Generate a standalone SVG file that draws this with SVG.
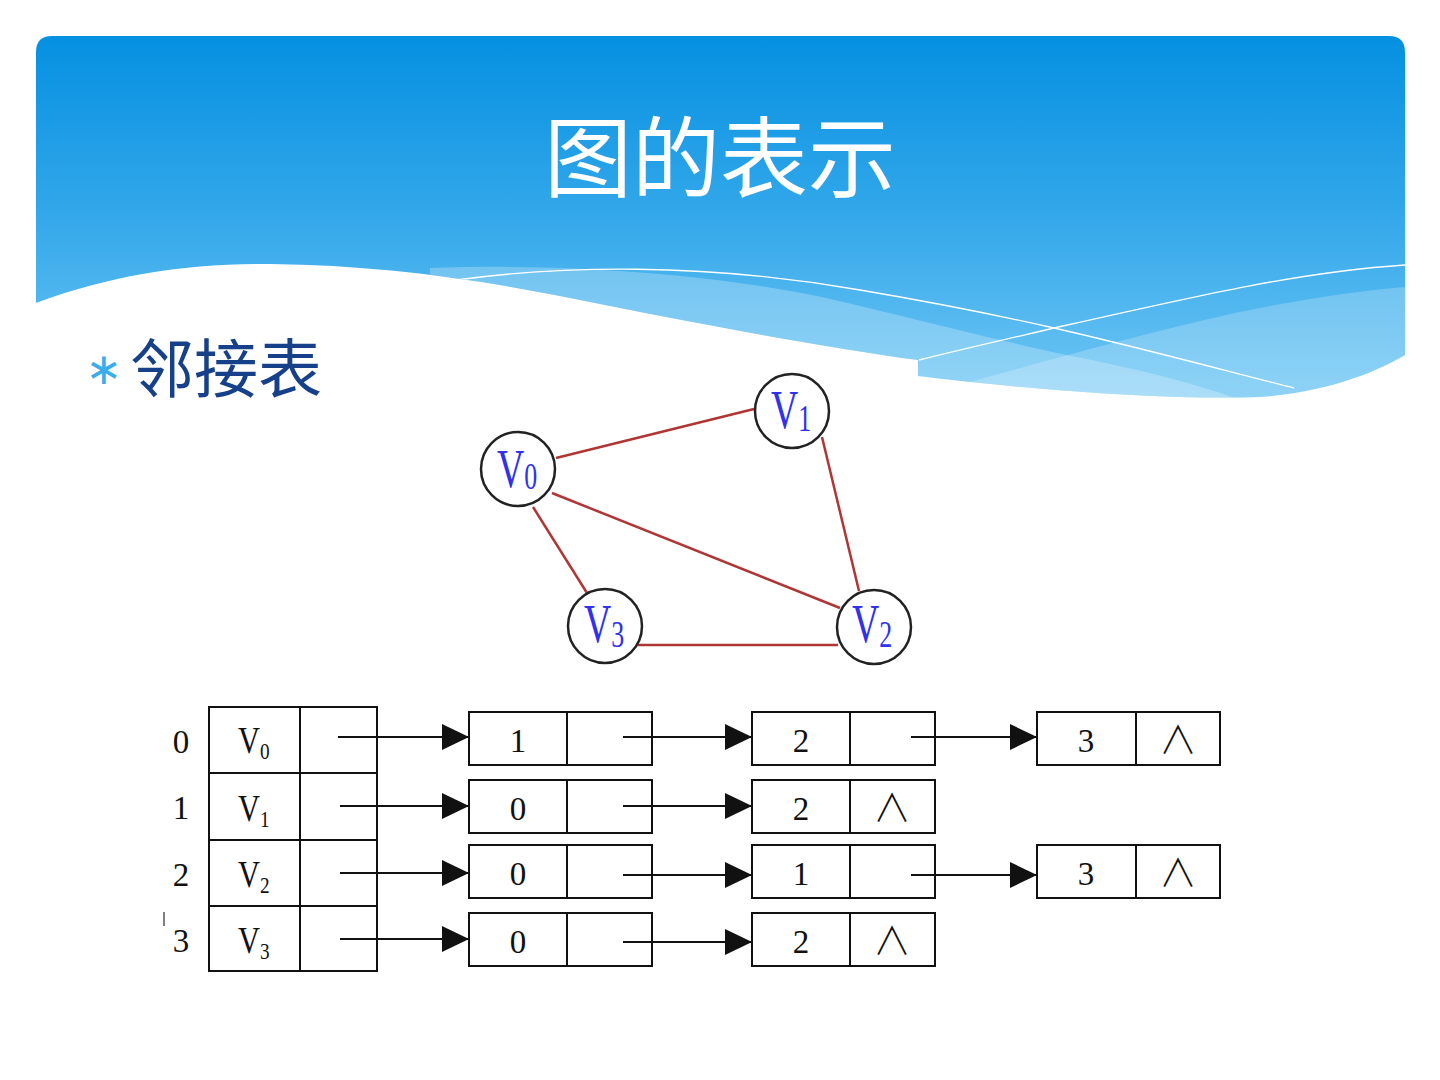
<svg xmlns="http://www.w3.org/2000/svg" width="1440" height="1080" viewBox="0 0 1440 1080">
<style>
.title{font-family:"Noto Sans CJK SC","Noto Sans",sans-serif;font-size:88px;fill:#ffffff;text-anchor:middle}
.sub{font-family:"Noto Sans CJK SC","Noto Sans",sans-serif;font-size:64px;fill:#17408a}
.bul{font-family:"DejaVu Sans",sans-serif;font-size:44px;fill:#3aaeea}
.edge{stroke:#b03535;stroke-width:2.5;fill:none}
.node{fill:#ffffff;stroke:#222222;stroke-width:2.5}
.nlab{font-family:"Liberation Serif",serif;font-size:54px;fill:#3030f0}
.nsub{font-size:37px}
.box{fill:#ffffff;stroke:#111111;stroke-width:2}
.div{stroke:#111111;stroke-width:2}
.dig{font-family:"Liberation Serif",serif;font-size:33px;fill:#111111;text-anchor:middle}
.vlab{font-family:"Liberation Serif",serif;font-size:38px;fill:#111111}
.vsub{font-size:24px}
.nul{font-family:"Noto Sans CJK SC",sans-serif;font-weight:300;font-size:38px;fill:#111111;text-anchor:middle}
.arr{stroke:#111111;stroke-width:2;fill:none;marker-end:url(#ah)}
</style>
<defs>
<linearGradient id="hg" x1="0" y1="36" x2="0" y2="400" gradientUnits="userSpaceOnUse">
<stop offset="0" stop-color="#0590e1"/>
<stop offset="0.5" stop-color="#34a8ea"/>
<stop offset="1" stop-color="#70c7f4"/>
</linearGradient>
<clipPath id="hc">
<path d="M36,52 Q36,36 52,36 L1389,36 Q1405,36 1405,52 L1405,355 C1380,370 1330,392 1260,397 C1180,400 1050,392 918,376 L918,360 C830,348 720,328 600,304 C500,283 390,265 270,264 C190,263 110,275 36,303 Z"/>
</clipPath>
<marker id="ah" markerUnits="userSpaceOnUse" markerWidth="28" markerHeight="28" refX="27" refY="13" orient="auto">
<path d="M0,0 L27,13 L0,26 Z" fill="#111111"/>
</marker>
</defs>
<rect width="1440" height="1080" fill="#ffffff"/>
<g id="header">
<path d="M36,52 Q36,36 52,36 L1389,36 Q1405,36 1405,52 L1405,355 C1380,370 1330,392 1260,397 C1180,400 1050,392 918,376 L918,360 C830,348 720,328 600,304 C500,283 390,265 270,264 C190,263 110,275 36,303 Z" fill="url(#hg)"/>
<g clip-path="url(#hc)">
<path d="M430,268 C600,262 760,280 860,306 C960,330 1030,348 1082,358 C1150,372 1200,385 1240,400 L430,420 Z" fill="#ffffff" fill-opacity="0.25"/>
<path d="M900,400 C1000,375 1150,330 1250,310 C1320,296 1370,290 1405,287 L1405,420 L900,420 Z" fill="#ffffff" fill-opacity="0.22"/>
<path d="M456,280 C560,266 700,262 860,290 C960,307 1010,318 1054,328 C1150,350 1230,372 1294,388" fill="none" stroke="#ffffff" stroke-width="1.3"/>
<path d="M919,360 C980,345 1020,336 1054,328 C1200,295 1300,272 1405,265" fill="none" stroke="#ffffff" stroke-width="1.3"/>
</g>
<text class="title" x="720" y="190">图的表示</text>
</g>
<g id="subtitle">
<text class="bul" x="104" y="384" text-anchor="middle">∗</text>
<text class="sub" x="130" y="392">邻接表</text>
</g>
<g id="graph-edges">
<line class="edge" x1="556" y1="458" x2="754" y2="409"/>
<line class="edge" x1="822" y1="437" x2="859" y2="591"/>
<line class="edge" x1="552" y1="493" x2="840" y2="608"/>
<line class="edge" x1="533" y1="507" x2="587" y2="593"/>
<line class="edge" x1="638" y1="645" x2="838" y2="645" stroke-width="3.5"/>
</g>
<g id="gV0">
<circle class="node" cx="518" cy="469" r="37"/>
<text class="nlab" transform="translate(497,487) scale(0.7,1)">V<tspan class="nsub" dy="2">0</tspan></text>
</g>
<g id="gV1">
<circle class="node" cx="792" cy="411" r="37"/>
<text class="nlab" transform="translate(771,428) scale(0.7,1)">V<tspan class="nsub" dy="3">1</tspan></text>
</g>
<g id="gV2">
<circle class="node" cx="874" cy="627" r="37"/>
<text class="nlab" transform="translate(852,642) scale(0.7,1)">V<tspan class="nsub" dy="5">2</tspan></text>
</g>
<g id="gV3">
<circle class="node" cx="605" cy="626" r="37"/>
<text class="nlab" transform="translate(584,642) scale(0.7,1)">V<tspan class="nsub" dy="5">3</tspan></text>
</g>
<g id="index">
<text class="dig" x="181" y="753">0</text>
<text class="dig" x="181" y="819">1</text>
<text class="dig" x="181" y="886">2</text>
<text class="dig" x="181" y="952">3</text>
<line x1="164" y1="912" x2="164" y2="926" stroke="#555555" stroke-width="1.5"/>
</g>
<g id="vertex-table">
<rect class="box" x="209" y="707" width="168" height="264"/>
<line class="div" x1="300" y1="707" x2="300" y2="971"/>
<line class="div" x1="209" y1="773" x2="377" y2="773"/>
<line class="div" x1="209" y1="840" x2="377" y2="840"/>
<line class="div" x1="209" y1="906" x2="377" y2="906"/>
<text class="vlab" transform="translate(238,753) scale(0.8,1)">V<tspan class="vsub" dy="6">0</tspan></text>
<text class="vlab" transform="translate(238,821) scale(0.8,1)">V<tspan class="vsub" dy="6">1</tspan></text>
<text class="vlab" transform="translate(238,887) scale(0.8,1)">V<tspan class="vsub" dy="6">2</tspan></text>
<text class="vlab" transform="translate(238,953) scale(0.8,1)">V<tspan class="vsub" dy="6">3</tspan></text>
</g>
<g id="e0-1"><rect class="box" x="469" y="712" width="183" height="53"/><line class="div" x1="567" y1="712" x2="567" y2="765"/><text class="dig" x="518" y="752">1</text></g>
<g id="e0-2"><rect class="box" x="752" y="712" width="183" height="53"/><line class="div" x1="850" y1="712" x2="850" y2="765"/><text class="dig" x="801" y="752">2</text></g>
<g id="e0-3"><rect class="box" x="1037" y="712" width="183" height="53"/><line class="div" x1="1136" y1="712" x2="1136" y2="765"/><text class="dig" x="1086" y="752">3</text><text class="nul" x="1178" y="753">∧</text></g>
<g id="e1-0"><rect class="box" x="469" y="780" width="183" height="53"/><line class="div" x1="567" y1="780" x2="567" y2="833"/><text class="dig" x="518" y="820">0</text></g>
<g id="e1-2"><rect class="box" x="752" y="780" width="183" height="53"/><line class="div" x1="850" y1="780" x2="850" y2="833"/><text class="dig" x="801" y="820">2</text><text class="nul" x="892" y="821">∧</text></g>
<g id="e2-0"><rect class="box" x="469" y="845" width="183" height="53"/><line class="div" x1="567" y1="845" x2="567" y2="898"/><text class="dig" x="518" y="885">0</text></g>
<g id="e2-1"><rect class="box" x="752" y="845" width="183" height="53"/><line class="div" x1="850" y1="845" x2="850" y2="898"/><text class="dig" x="801" y="885">1</text></g>
<g id="e2-3"><rect class="box" x="1037" y="845" width="183" height="53"/><line class="div" x1="1136" y1="845" x2="1136" y2="898"/><text class="dig" x="1086" y="885">3</text><text class="nul" x="1178" y="886">∧</text></g>
<g id="e3-0"><rect class="box" x="469" y="913" width="183" height="53"/><line class="div" x1="567" y1="913" x2="567" y2="966"/><text class="dig" x="518" y="953">0</text></g>
<g id="e3-2"><rect class="box" x="752" y="913" width="183" height="53"/><line class="div" x1="850" y1="913" x2="850" y2="966"/><text class="dig" x="801" y="953">2</text><text class="nul" x="892" y="954">∧</text></g>
<g id="connectors">
<line class="arr" x1="338" y1="737" x2="469" y2="737"/>
<line class="arr" x1="340" y1="806" x2="469" y2="806"/>
<line class="arr" x1="340" y1="873" x2="469" y2="873"/>
<line class="arr" x1="340" y1="939" x2="469" y2="939"/>
<line class="arr" x1="623" y1="737" x2="752" y2="737"/>
<line class="arr" x1="623" y1="806" x2="752" y2="806"/>
<line class="arr" x1="623" y1="875" x2="752" y2="875"/>
<line class="arr" x1="623" y1="942" x2="752" y2="942"/>
<line class="arr" x1="911" y1="737" x2="1037" y2="737"/>
<line class="arr" x1="911" y1="875" x2="1037" y2="875"/>
</g>
</svg>
